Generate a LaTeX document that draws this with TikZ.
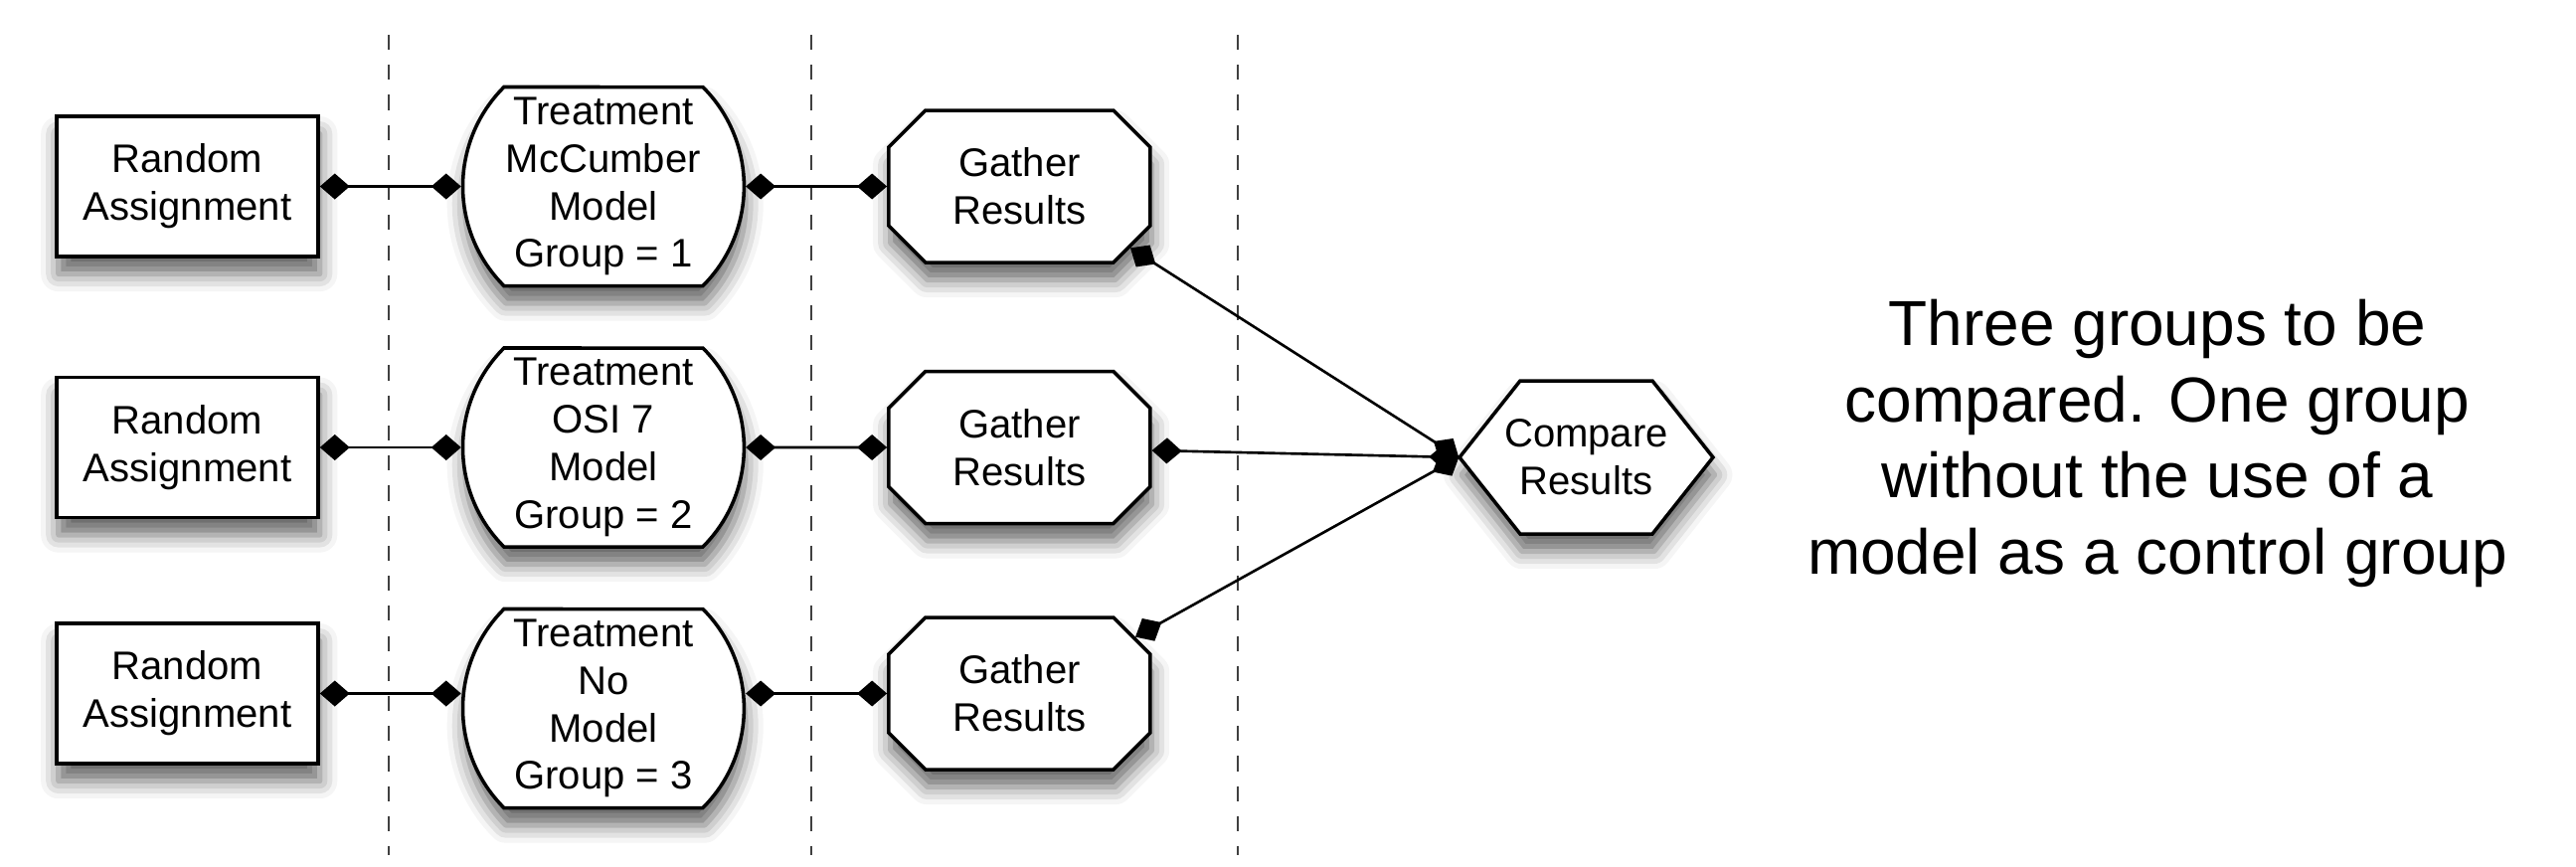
\documentclass[tikz,border=0pt]{standalone}
\usepackage{fontspec}
\setmainfont{Liberation Sans}
\usetikzlibrary{arrows.meta, positioning, shapes.misc, shadows.blur}

\begin{document}
\begin{tikzpicture}[node distance=1.42cm and 1.42cm,
    every node/.style={font=\fontsize{11.4}{13.6}\selectfont, align=center},
    shapebox/.style={draw, line width=1pt, fill=white, inner sep=1pt,
      blur shadow={shadow xshift=0.5pt, shadow yshift=-5pt, shadow blur radius=5pt, shadow opacity=60}},
    assign/.style={shapebox, rectangle, minimum width=2.63cm, minimum height=1.41cm},
    treat/.style={shapebox, rounded rectangle, rounded rectangle arc length=90, minimum width=2.85cm, minimum height=2cm},
    gather/.style={shapebox, chamfered rectangle, chamfered rectangle sep=0.185cm, minimum width=2.63cm, minimum height=1.53cm},
    link/.style={line width=0.75pt, {Diamond[length=3mm, width=2.6mm]}-{Diamond[length=3mm, width=2.6mm]}},
    divider/.style={dash pattern=on 4.3pt off 4.3pt, line width=0.45pt, black!75}]
    \useasboundingbox (0,0) rectangle (25.91,-8.71);
    % phase separators
    \draw[divider] (3.91,-0.35) -- (3.91,-8.60);
    \draw[divider] (8.16,-0.35) -- (8.16,-8.60);
    \draw[divider] (12.45,-0.35) -- (12.45,-8.60);
    % groups
    \node[assign] (r1) at (1.885,-1.875) {Random\\Assignment};
    \node[treat, right=of r1] (t1) {Treatment\\McCumber\\Model\\Group = 1};
    \node[gather, right=of t1] (g1) {Gather\\Results};
    \node[assign] (r2) at (1.885,-4.50) {Random\\Assignment};
    \node[treat, right=of r2] (t2) {Treatment\\OSI 7\\Model\\Group = 2};
    \node[gather, right=of t2] (g2) {Gather\\Results};
    \node[assign] (r3) at (1.885,-6.975) {Random\\Assignment};
    \node[treat, right=of r3, yshift=-0.15cm] (t3) {Treatment\\No\\Model\\Group = 3};
    \node[gather, right=of t3, yshift=0.15cm] (g3) {Gather\\Results};
    % hexagon behind the compare node
    \coordinate (cmpc) at (15.955,-4.60);
    \begin{scope}
      \draw[shapebox] ([xshift=-1.275cm]cmpc) -- ++(0.61,0.77) -- ++(1.33,0) -- ++(0.61,-0.77) -- ++(-0.61,-0.77) -- ++(-1.33,0) -- cycle;
    \end{scope}
    \node[minimum width=2.55cm, minimum height=1.54cm, inner sep=0pt] (cmp) at (cmpc) {Compare\\Results};
    \node[font=\fontsize{18.2}{21.8}\selectfont] (note) at (21.70,-4.46) {Three groups to be\\compared. One group\\without the use of a\\model as a control group};
    % links
    \draw[link] (r1) -- (t1);
    \draw[link] (t1) -- (g1);
    \draw[link] (r2) -- (t2);
    \draw[link] (t2) -- (g2);
    \draw[link] (r3.east) -- (r3.east -| t3.west);
    \draw[link] (t3.east |- g3.west) -- (g3.west);
    \draw[link] (g1.-29) -- (cmp.west);
    \draw[link] (g2) -- (cmp.west);
    \draw[link] (g3.26) -- (cmp.west);
\end{tikzpicture}
\end{document}
